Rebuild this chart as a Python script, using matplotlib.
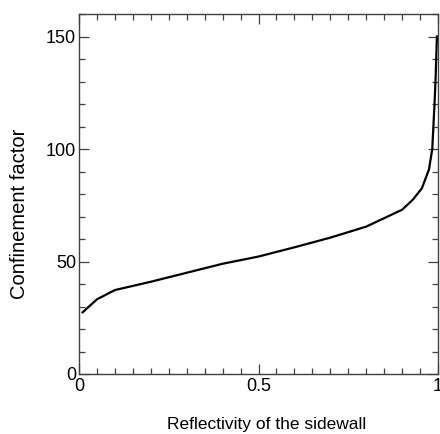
import matplotlib
matplotlib.use("Agg")
import matplotlib.pyplot as plt
from matplotlib.ticker import MultipleLocator

reflectivity = [0.01, 0.05, 0.1, 0.2, 0.3, 0.4, 0.5, 0.6, 0.7, 0.8, 0.9, 0.93, 0.955, 0.975, 0.984, 0.99, 0.993, 0.997]
confinement = [27.4, 33.2, 37.3, 41.0, 45.0, 49.0, 52.2, 56.3, 60.6, 65.5, 73.0, 77.5, 82.5, 91.0, 100.0, 119.0, 130.0, 150.0]

x_ticks = [0, 0.5, 1]
x_tick_labels = ["0", "0.5", "1"]
y_ticks = [0, 50, 100, 150]
y_tick_labels = ["0", "50", "100", "150"]

plt.rcParams['font.family'] = ['Liberation Sans', 'DejaVu Sans']

fig = plt.figure(figsize=(4.4, 4.34), dpi=100)
ax = fig.add_axes([79/440, 1 - 374/434, (438-79)/440, (374-14)/434])

ax.plot(reflectivity, confinement, color='black', linewidth=1.6)

ax.set_xlim(0, 1)
ax.set_ylim(0, 160)
ax.set_xticks(x_ticks)
ax.set_xticklabels(x_tick_labels)
ax.set_yticks(y_ticks)
ax.set_yticklabels(y_tick_labels)
ax.xaxis.set_minor_locator(MultipleLocator(0.05))
ax.yaxis.set_minor_locator(MultipleLocator(10))

ax.tick_params(which='both', direction='in', top=True, right=True, color='#404040', width=0.9, labelsize=13)
ax.tick_params(axis='x', pad=3)
ax.tick_params(axis='y', pad=2)
ax.tick_params(which='major', length=7)
ax.tick_params(which='minor', length=4)
for s in ax.spines.values():
    s.set_color('#404040')
    s.set_linewidth(1.0)

fig.text(267/440, 1 - 429.5/434, 'Reflectivity of the sidewall', fontsize=12.5,
         ha='center', va='baseline')
fig.text(25/440, 1 - 214/434, 'Confinement factor', fontsize=14.5,
         ha='center', va='baseline', rotation=90, rotation_mode='anchor')

fig.savefig('out.png', dpi=100)
